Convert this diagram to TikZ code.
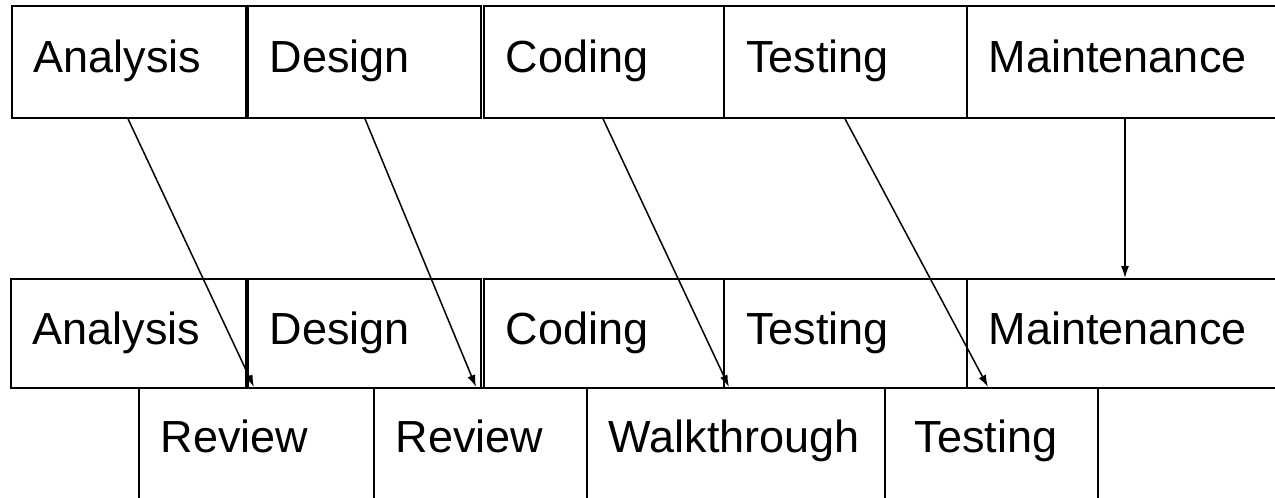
\documentclass[tikz,border=0pt]{standalone}
\usepackage{fontspec}
\setmainfont{Liberation Sans}
\usetikzlibrary{arrows.meta}
\tikzset{
  phase/.style={draw, line width=1.8pt, anchor=north west, inner xsep=22pt,
    inner ysep=0pt, align=left, text height=32pt, text depth=10pt,
    font=\fontsize{45}{50}\selectfont},
  upper/.style={phase, minimum height=112pt},
  lower/.style={phase, minimum height=109pt},
  check/.style={phase, minimum height=130pt, text depth=32pt},
  flow/.style={line width=1.5pt, -{Latex[length=12pt,width=8pt]}}
}
\begin{document}
\begin{tikzpicture}[x=1pt, y=-1pt]
  \useasboundingbox (0,0) rectangle (1275,498);

  % development phases
  \node[upper, text width=190pt]   (a1) at (11,5)    {Analysis};
  \node[upper, text width=189pt]   (d1) at (247,5)   {Design};
  \node[upper, text width=195.5pt] (c1) at (483,5)   {Coding};
  \node[upper, text width=198.5pt] (t1) at (723.5,5) {Testing};
  \node[upper, text width=290pt]   (m1) at (966,5)   {Maintenance};

  % the same phases, with verification steps below
  \node[lower, text width=191pt]   (a2) at (10,278)    {Analysis};
  \node[lower, text width=189pt]   (d2) at (247,278)   {Design};
  \node[lower, text width=195.5pt] (c2) at (483,278)   {Coding};
  \node[lower, text width=198.5pt] (t2) at (723.5,278) {Testing};
  \node[lower, text width=290pt]   (m2) at (966,278)   {Maintenance};

  % verification steps
  \node[check, text width=191pt] (r1) at (138,387) {Review};
  \node[check, text width=169pt] (r2) at (373,387) {Review};
  \node[check, text width=254pt] (w3) at (586,387) {Walkthrough};
  \node[check, text width=153pt, inner xsep=30pt] (t3) at (884,387) {Testing};

  % each phase feeds its verification step
  \draw[flow] ([xshift=117pt]a1.south west)   -- ([xshift=116pt]r1.north west);
  \draw[flow] ([xshift=118pt]d1.south west)   -- ([xshift=103pt]r2.north west);
  \draw[flow] ([xshift=120pt]c1.south west)   -- ([xshift=143pt]w3.north west);
  \draw[flow] ([xshift=121.5pt]t1.south west) -- ([xshift=104pt]t3.north west);
  \draw[flow] ([xshift=159pt]m1.south west)   -- ([xshift=159pt]m2.north west);
\end{tikzpicture}
\end{document}
